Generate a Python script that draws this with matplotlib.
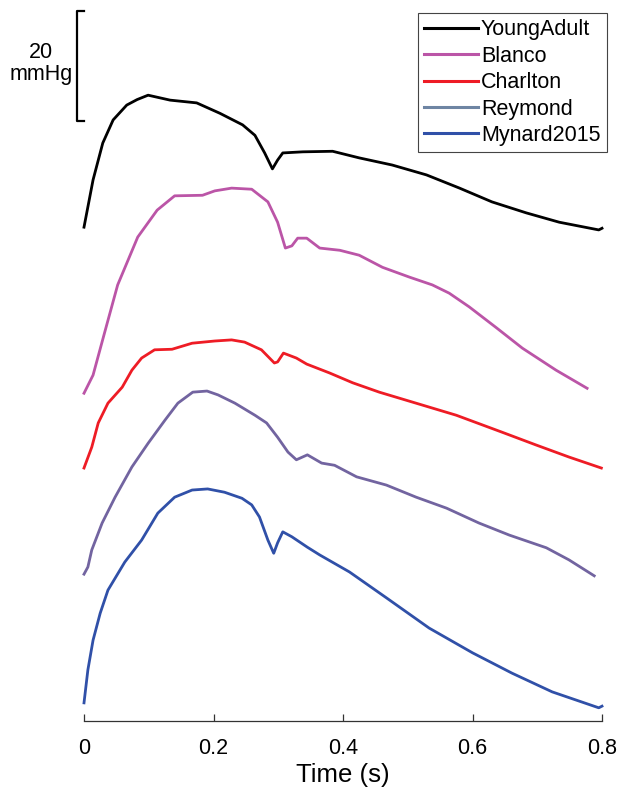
import numpy as np
import matplotlib
matplotlib.use("Agg")
import matplotlib.pyplot as plt
from matplotlib.lines import Line2D

plt.rcParams['font.family'] = ['Liberation Sans', 'DejaVu Sans']

# Pressure waves (time in s, pressure in mmHg)
t_young = [0, 0.014, 0.029, 0.045, 0.066, 0.082, 0.099, 0.133, 0.174, 0.210, 0.245, 0.264, 0.279,
           0.291, 0.299, 0.307, 0.338, 0.384, 0.425, 0.476, 0.529, 0.580, 0.630, 0.683,
           0.734, 0.795, 0.800]
p_young = [74.8, 83.4, 90.1, 94.3, 97.0, 98.0, 98.8, 97.9, 97.4, 95.5, 93.4, 91.5, 88.3,
           85.4, 87.0, 88.3, 88.5, 88.6, 87.4, 86.1, 84.3, 81.9, 79.4, 77.4,
           75.7, 74.3, 74.6]

t_blanco = [0, 0.014, 0.032, 0.052, 0.083, 0.113, 0.140, 0.183, 0.202, 0.228, 0.259, 0.284,
            0.299, 0.311, 0.321, 0.330, 0.344, 0.364, 0.395, 0.425, 0.461, 0.503, 0.538,
            0.564, 0.595, 0.637, 0.677, 0.729, 0.777]
p_blanco = [74.6, 77.9, 85.7, 94.3, 103.0, 107.9, 110.5, 110.6, 111.4, 111.9, 111.7, 109.4,
            105.7, 101.0, 101.4, 102.8, 102.8, 101.0, 100.6, 99.7, 97.5, 95.7, 94.3,
            92.8, 90.3, 86.5, 82.8, 78.8, 75.5]

t_charlton = [0, 0.012, 0.022, 0.037, 0.059, 0.074, 0.089, 0.109, 0.136, 0.167, 0.202, 0.228,
              0.248, 0.274, 0.294, 0.299, 0.308, 0.328, 0.344, 0.379, 0.415, 0.456, 0.507,
              0.575, 0.646, 0.698, 0.749, 0.799]
p_charlton = [76.0, 79.8, 84.2, 87.8, 90.7, 93.8, 96.0, 97.5, 97.6, 98.7, 99.1, 99.3,
              98.9, 97.5, 95.1, 95.3, 96.9, 96.0, 94.9, 93.3, 91.5, 89.8, 88.0,
              85.6, 82.5, 80.2, 78.0, 76.0]

t_reymond = [0, 0.006, 0.012, 0.028, 0.048, 0.074, 0.099, 0.125, 0.145, 0.168, 0.190, 0.207,
             0.233, 0.264, 0.282, 0.299, 0.315, 0.328, 0.345, 0.367, 0.387, 0.421, 0.467,
             0.513, 0.560, 0.610, 0.657, 0.714, 0.749, 0.788]
p_reymond = [76.7, 78.0, 81.1, 86.0, 90.7, 96.2, 100.5, 104.7, 107.8, 109.8, 110.0, 109.3,
             107.8, 105.6, 104.2, 101.6, 98.9, 97.5, 98.4, 96.9, 96.5, 94.4, 92.9,
             90.7, 88.7, 86.0, 83.8, 81.5, 79.3, 76.4]

t_mynard = [0, 0.006, 0.014, 0.025, 0.037, 0.063, 0.089, 0.114, 0.140, 0.167, 0.191, 0.217,
            0.244, 0.259, 0.271, 0.284, 0.293, 0.299, 0.307, 0.321, 0.345, 0.364, 0.410,
            0.467, 0.533, 0.600, 0.661, 0.723, 0.795, 0.800]
p_mynard = [75.3, 81.3, 86.7, 91.6, 95.8, 100.9, 104.9, 109.8, 112.7, 114.0, 114.2, 113.6,
            112.5, 111.3, 109.1, 104.9, 102.5, 104.4, 106.4, 105.5, 103.6, 102.2, 99.1,
            94.4, 88.9, 84.4, 80.7, 77.3, 74.4, 74.7]

names = ['YoungAdult', 'Blanco', 'Charlton', 'Reymond', 'Mynard2015']
times = [t_young, t_blanco, t_charlton, t_reymond, t_mynard]
pressures = [p_young, p_blanco, p_charlton, p_reymond, p_mynard]
offsets = [15, -15, -30, -50, -72]   # vertical shift so the waves don't overlap
colors = ['#000000', '#bb55a7', '#ee1c25', '#7264a0', '#3050a8']
legend_colors = ['#000000', '#bb55a7', '#ee1c25', '#6e85a3', '#3050a8']

scale_bar = 20  # mmHg

fig = plt.figure(figsize=(6.2, 7.9), dpi=100)
ax = fig.add_axes([84 / 620, 69 / 790, 518 / 620, 716 / 790])

for t, p, off, c in zip(times, pressures, offsets, colors):
    ax.plot(t, np.array(p) + off, color=c, lw=2, clip_on=False)

ax.set_xlim(0, 0.8)
ax.set_ylim(0, 130.2)

# scale bar
bx = -0.011
ytop = 129.1
ax.plot([0, bx, bx, 0], [ytop, ytop, ytop - scale_bar, ytop - scale_bar],
        color='k', lw=1.6, clip_on=False)
ax.text(-0.066, ytop - scale_bar / 2 + 0.4, '20\nmmHg', ha='center', va='center',
        fontsize=15.5, linespacing=1.05)

for s in ['left', 'right', 'top']:
    ax.spines[s].set_visible(False)
ax.spines['bottom'].set_color('#333333')
ax.spines['bottom'].set_linewidth(0.9)
ax.set_yticks([])
ax.set_xticks([0, 0.2, 0.4, 0.6, 0.8])
ax.set_xticklabels(['0', '0.2', '0.4', '0.6', '0.8'])
ax.tick_params(axis='x', direction='in', length=5, width=0.9, color='#333333',
               labelsize=15.5, pad=12)
ax.set_xlabel('Time (s)', fontsize=18.5, labelpad=3)

handles = [Line2D([], [], color=c, lw=2.2) for c in legend_colors]
leg = fig.legend(handles, names, loc='upper right', bbox_to_anchor=(607 / 620, 1 - 13 / 790),
                 fontsize=15.5, frameon=True, fancybox=False, framealpha=1,
                 handlelength=2.5, handletextpad=0.15, labelspacing=0.25,
                 borderpad=0.3, borderaxespad=0)
leg.get_frame().set_edgecolor('#444444')
leg.get_frame().set_linewidth(0.8)

fig.savefig('out.png', dpi=100)
